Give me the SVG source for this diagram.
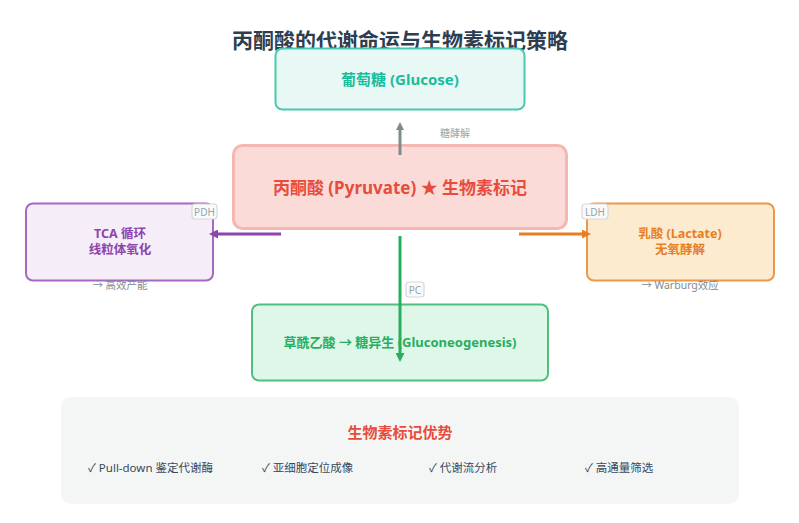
<svg xmlns="http://www.w3.org/2000/svg" width="799" height="523" viewBox="0 0 799 523">
<defs>
<style>
text{font-family:"Noto Sans","Noto Sans CJK SC",sans-serif;text-anchor:middle;dominant-baseline:central}
.b{font-weight:bold}
.lbl{fill:#95a5a6;font-size:10px}
.lbox{fill:#fafafa;stroke:#d5d8dc;stroke-width:1.2}
.note{fill:#7f8c8d;font-size:10.5px}
.item{fill:#34495e;font-size:11.5px;text-anchor:start}
</style>
<marker id="mg" markerWidth="8" markerHeight="8" refX="4" refY="4" orient="auto" markerUnits="userSpaceOnUse" viewBox="0 0 8 8"><path d="M0,0 L8,4 L0,8 Z" fill="#7f8c8d"/></marker>
<marker id="mp" markerWidth="9" markerHeight="9" refX="4" refY="4.5" orient="auto" markerUnits="userSpaceOnUse" viewBox="0 0 9 9"><path d="M0,0 L9,4.5 L0,9 Z" fill="#8e44ad"/></marker>
<marker id="mo" markerWidth="9" markerHeight="9" refX="4" refY="4.5" orient="auto" markerUnits="userSpaceOnUse" viewBox="0 0 9 9"><path d="M0,0 L9,4.5 L0,9 Z" fill="#e67e22"/></marker>
<marker id="mgr" markerWidth="9" markerHeight="9" refX="4" refY="4.5" orient="auto" markerUnits="userSpaceOnUse" viewBox="0 0 9 9"><path d="M0,0 L9,4.5 L0,9 Z" fill="#27ae60"/></marker>
</defs>
<rect width="799" height="523" fill="#ffffff"/>
<text x="400" y="40" class="b" font-size="21" fill="#2c3e50">丙酮酸的代谢命运与生物素标记策略</text>

<g id="glucose">
<rect x="275.5" y="48.5" width="249" height="61" rx="7" fill="#e8f8f5" stroke="#48c9b0" stroke-width="2"/>
<text x="400" y="79" class="b" font-size="15" fill="#1abc9c">葡萄糖 (Glucose)</text>
</g>

<g id="pyruvate">
<rect x="233.5" y="145.5" width="333" height="83" rx="9" fill="#fadbd8" stroke="#f5b7b1" stroke-width="3"/>
<text x="400" y="187" class="b" font-size="17" fill="#e74c3c">丙酮酸 (Pyruvate) ★ 生物素标记</text>
</g>

<g id="tca">
<rect x="26" y="203.5" width="187" height="77" rx="7" fill="#f5eef8" stroke="#a569bd" stroke-width="2"/>
<text x="120" y="233" class="b" font-size="12.5" fill="#8e44ad">TCA 循环</text>
<text x="120" y="249" class="b" font-size="12.5" fill="#8e44ad">线粒体氧化</text>
</g>

<g id="lactate">
<rect x="587" y="203.5" width="187" height="77" rx="7" fill="#fdebd0" stroke="#eb984e" stroke-width="2"/>
<text x="680" y="233" class="b" font-size="12.5" fill="#e67e22">乳酸 (Lactate)</text>
<text x="680" y="249" class="b" font-size="12.5" fill="#e67e22">无氧酵解</text>
</g>

<g id="oaa">
<rect x="252" y="304.5" width="296" height="76" rx="7" fill="#dff7e9" stroke="#52be80" stroke-width="2"/>
<text x="400" y="342" class="b" font-size="13" fill="#27ae60">草酰乙酸 → 糖异生 (Gluconeogenesis)</text>
</g>

<g id="panel">
<rect x="61" y="397" width="678" height="107" rx="10" fill="#f4f6f6"/>
<text x="400" y="432" class="b" font-size="15" fill="#e74c3c">生物素标记优势</text>
<text x="88" y="467" class="item">✓ Pull-down 鉴定代谢酶</text>
<text x="262" y="467" class="item">✓ 亚细胞定位成像</text>
<text x="429" y="467" class="item">✓ 代谢流分析</text>
<text x="585" y="467" class="item">✓ 高通量筛选</text>
</g>

<g id="connectors">
<line x1="400" y1="155" x2="400" y2="126" stroke="#7f8c8d" stroke-width="3" marker-end="url(#mg)"/>
<text x="455" y="133" class="lbl">糖酵解</text>

<line x1="281" y1="234" x2="214" y2="234" stroke="#8e44ad" stroke-width="3" marker-end="url(#mp)"/>
<rect x="192" y="204" width="25" height="15" rx="3" class="lbox"/>
<text x="204.5" y="211.5" class="lbl">PDH</text>
<text x="120" y="285" class="note">→ 高效产能</text>

<line x1="519" y1="234" x2="586" y2="234" stroke="#e67e22" stroke-width="3" marker-end="url(#mo)"/>
<rect x="582" y="204" width="26" height="15" rx="3" class="lbox"/>
<text x="595" y="211.5" class="lbl">LDH</text>
<text x="680" y="285" class="note">→ Warburg效应</text>

<line x1="400" y1="236" x2="400" y2="357" stroke="#27ae60" stroke-width="3" marker-end="url(#mgr)"/>
<rect x="406" y="282" width="18" height="15" rx="3" class="lbox"/>
<text x="415" y="289.5" class="lbl">PC</text>
</g>
</svg>
